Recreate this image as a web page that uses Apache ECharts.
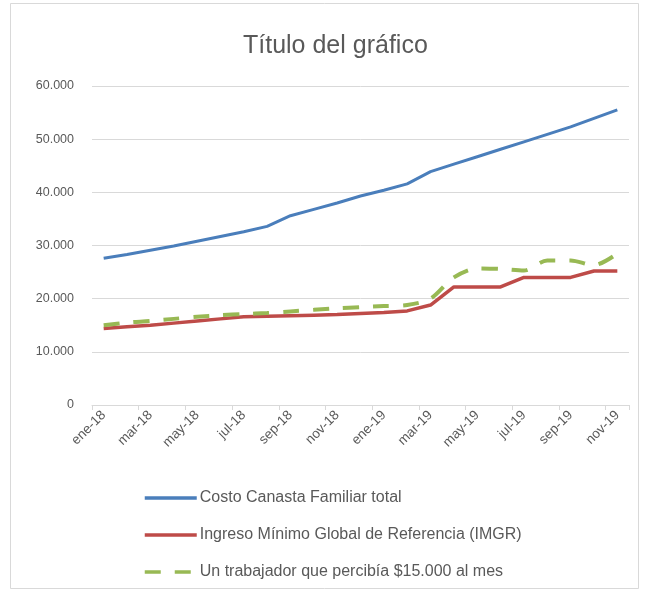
<!DOCTYPE html>
<html>
<head>
<meta charset="utf-8">
<script src="https://cdn.jsdelivr.net/npm/echarts@6/dist/echarts.min.js"></script>
<style>
html,body{margin:0;padding:0;background:#fff;}
#c{width:647px;height:593px;}
</style>
</head>
<body>
<div id="c"></div>
<script>
const categories = ["ene-18","feb-18","mar-18","abr-18","may-18","jun-18","jul-18","ago-18","sep-18","oct-18","nov-18","dic-18",
  "ene-19","feb-19","mar-19","abr-19","may-19","jun-19","jul-19","ago-19","sep-19","oct-19","nov-19"];
const costoCanasta = [27600,28300,29100,29900,30800,31700,32600,33600,35600,36800,38000,39300,
  40400,41600,43900,45300,46700,48100,49500,50900,52300,53900,55500];
const imgr = [14400,14700,15000,15400,15800,16200,16600,16700,16800,16900,17000,17200,
  17400,17700,18800,22200,22200,22200,24000,24000,24000,25200,25200];
const trabajador15000 = [15000,15500,15800,16200,16600,16900,17100,17300,17600,17900,18200,18400,
  18600,18800,20000,24000,25700,25600,25300,27200,27200,26300,28500];
const seriesNames = ["Costo Canasta Familiar total","Ingreso Mínimo Global de Referencia (IMGR)","Un trabajador que percibía $15.000 al mes"];
const yTicks = [0,10000,20000,30000,40000,50000,60000];

const fmt = v => v === 0 ? "0" : String(v).replace(/\B(?=(\d{3})+(?!\d))/g, ".");
const textColor = "#595959";
const font = "'Liberation Sans', Arial, sans-serif";

const chart = echarts.init(document.getElementById('c'), null, {renderer:'canvas'});
chart.setOption({
  backgroundColor: '#fff',
  animation: false,
  title: {
    text: "Título del gráfico",
    left: 238, top: 29,
    textStyle: {fontFamily: font, fontSize: 25, fontWeight: 'normal', color: textColor}
  },
  graphic: [{
    type: 'rect', shape: {x: 10.5, y: 3.5, width: 628, height: 585},
    style: {fill: 'none', stroke: '#d9d9d9', lineWidth: 1}, silent: true
  }],
  grid: {left: 92, right: 18, top: 86, bottom: 188, containLabel: false},
  legend: {
    orient: 'vertical', left: 143, top: 490, padding: 0,
    itemWidth: 52, itemHeight: 16, itemGap: 21,
    itemStyle: {opacity: 0},
    lineStyle: {width: 3.5},
    data: seriesNames,
    textStyle: {fontFamily: font, fontSize: 16, lineHeight: 16, color: textColor, padding: [0,0,0,-2]}
  },
  xAxis: {
    type: 'category', data: categories, boundaryGap: true,
    axisLine: {lineStyle: {color: '#d9d9d9', width: 1}},
    axisTick: {show: true, interval: 1, length: 5, lineStyle: {color: '#d9d9d9'}},
    axisLabel: {interval: 1, rotate: 45, margin: 8, fontFamily: font, fontSize: 13.5, color: textColor},
    splitLine: {show: false}
  },
  yAxis: {
    type: 'value', min: 0, max: 60000, interval: 10000,
    axisLine: {show: false}, axisTick: {show: false},
    axisLabel: {formatter: v => yTicks.includes(v) ? fmt(v) : '', margin: 18, fontFamily: font, fontSize: 12.5, color: textColor},
    splitLine: {lineStyle: {color: '#d9d9d9', width: 1}}
  },
  series: [
    {name: seriesNames[0], type: 'line', data: costoCanasta, symbol: 'none',
     lineStyle: {color: '#4A7EBB', width: 3}, itemStyle: {color: '#4A7EBB'}},
    {name: seriesNames[1], type: 'line', data: imgr, symbol: 'none',
     lineStyle: {color: '#BE4B48', width: 3.5}, itemStyle: {color: '#BE4B48'}},
    {name: seriesNames[2], type: 'line', data: trabajador15000, symbol: 'none', smooth: 0.3,
     lineStyle: {color: '#98B954', width: 4, type: [16, 14]}, itemStyle: {color: '#98B954'}}
  ]
});
</script>
</body>
</html>
